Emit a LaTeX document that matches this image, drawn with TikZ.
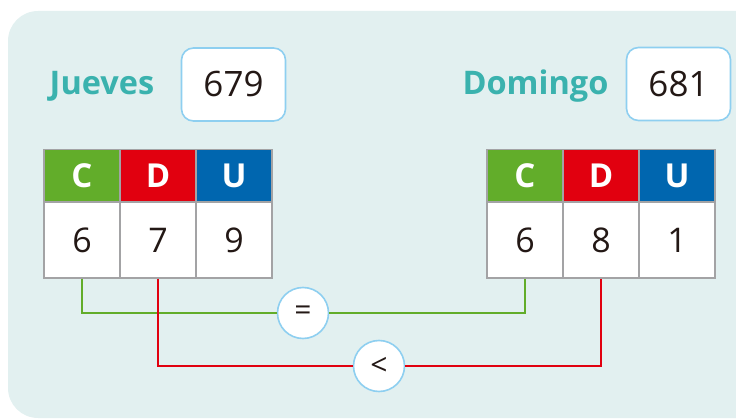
\documentclass[tikz,border=0pt]{standalone}
\usepackage{fontspec}
\setmainfont{Open Sans}
\definecolor{bgteal}{HTML}{E2F0F0}
\definecolor{labelteal}{HTML}{3AB2AE}
\definecolor{boxblue}{HTML}{8ECFF0}
\definecolor{cgreen}{HTML}{62AD2A}
\definecolor{dred}{HTML}{E1000F}
\definecolor{ublue}{HTML}{0066AF}
\definecolor{cellgray}{HTML}{A3A3A5}
\definecolor{ink}{HTML}{231815}
\tikzset{
  daylabel/.style={text=labelteal, font=\fontsize{32.5}{32.5}\selectfont\bfseries, inner sep=0pt},
  numbox/.style={draw=boxblue, line width=1.6pt, fill=white, rounded corners=12pt,
    minimum width=104pt, minimum height=73pt, text=ink, font=\fontsize{35}{35}\selectfont},
  headcell/.style={draw=cellgray, line width=1.5pt, minimum width=76pt, minimum height=53pt,
    text=white, font=\fontsize{33}{33}\selectfont\bfseries, inner sep=0pt},
  digitcell/.style={draw=cellgray, line width=1.5pt, fill=white, minimum width=76pt, minimum height=76pt,
    text=ink, font=\fontsize{34}{34}\selectfont, inner sep=0pt},
  signcircle/.style={circle, draw=boxblue, line width=1.6pt, fill=white, minimum size=51pt,
    inner sep=0pt, text=ink, font=\fontsize{30}{30}\selectfont},
  greenlink/.style={cgreen, line width=1.8pt},
  redlink/.style={dred, line width=1.8pt}
}
\begin{document}
\begin{tikzpicture}[x=1pt,y=-1pt]
\useasboundingbox (0,0) rectangle (736,419);
% background panel, running off the right edge
\begin{scope}
  \clip (0,0) rectangle (736,419);
  \fill[bgteal, rounded corners=30pt] (8,11) rectangle (790,418);
\end{scope}

% day labels and totals
\node[daylabel] (jueves) at (102,86) {Jueves};
\node[numbox] (jnum) at (233.5,84.5) {679};
\node[daylabel] (domingo) at (535.5,86) {Domingo};
\node[numbox] (dnum) at (678.5,84) {681};

% comparison signs
\node[signcircle] (eq) at (303,313) {=};
\node[signcircle] (lt) at (379,366) {<};

% left table
\node[headcell, fill=cgreen] (lC) at (82,176) {C};
\node[headcell, fill=dred]   (lD) at (158,176) {D};
\node[headcell, fill=ublue]  (lU) at (234,176) {U};
\node[digitcell] (l6) at (82,240) {6};
\node[digitcell] (l7) at (158,240) {7};
\node[digitcell] (l9) at (234,240) {9};

% right table
\node[headcell, fill=cgreen] (rC) at (525,176) {C};
\node[headcell, fill=dred]   (rD) at (601,176) {D};
\node[headcell, fill=ublue]  (rU) at (677,176) {U};
\node[digitcell] (r6) at (525,240) {6};
\node[digitcell] (r8) at (601,240) {8};
\node[digitcell] (r1) at (677,240) {1};

% comparison links
\draw[greenlink] (l6.south) |- (eq.west);
\draw[greenlink] (eq.east) -| (r6.south);
\draw[redlink] (l7.south) |- (lt.west);
\draw[redlink] (lt.east) -| (r8.south);
\end{tikzpicture}
\end{document}
